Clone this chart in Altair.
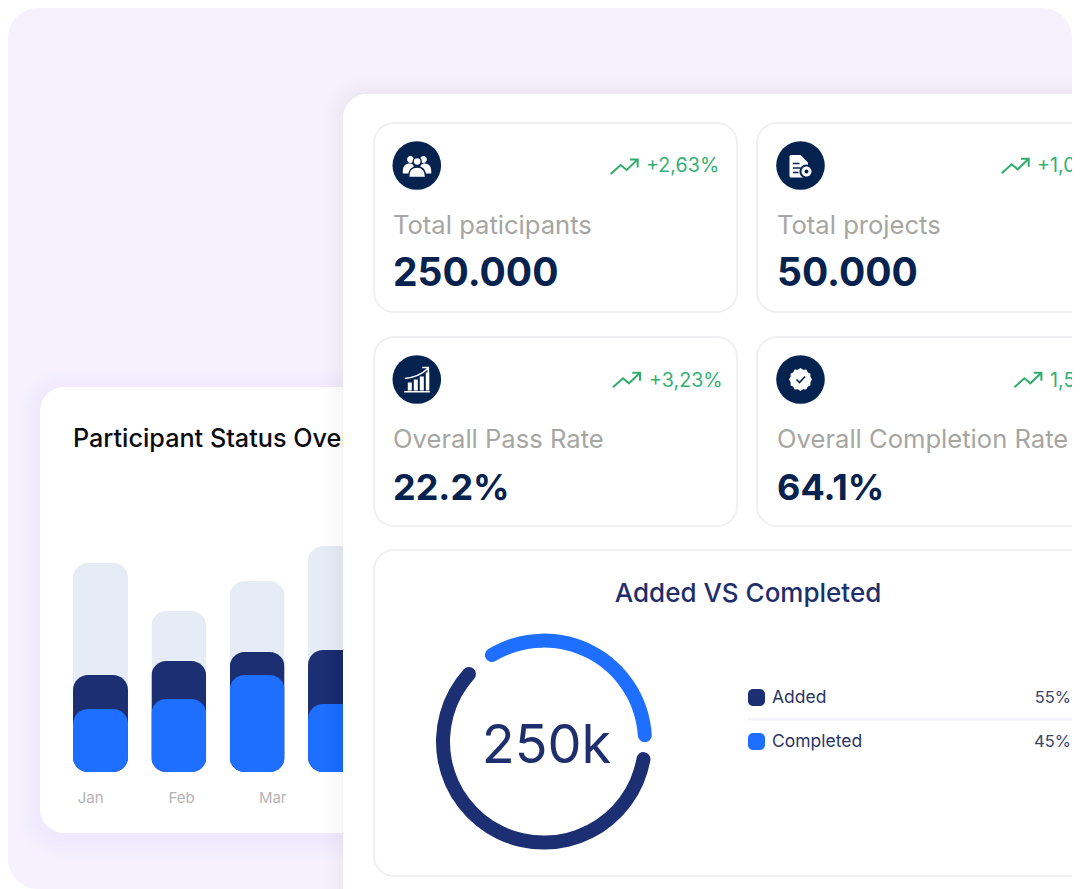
import math
import altair as alt
import pandas as pd

FONT = "Inter"
NAVY = "#06224F"
INDIGO = "#1B2F72"
BLUE = "#1E6EFF"
PALE = "#E5ECF5"
GREEN = "#2FAE6B"
GREY = "#A6A6A2"

months = ["Jan", "Feb", "Mar", "Apr"]
total_vals = [209, 161, 191, 226]
added_vals = [97, 111, 120, 122]
completed_vals = [63, 73, 97, 68]
month_labels = ["Jan", "Feb", "Mar"]
month_label_x = [90.7, 181.7, 272.7]

card_titles = ["Total paticipants", "Total projects", "Overall Pass Rate", "Overall Completion Rate"]
card_values = ["250.000", "50.000", "22.2%", "64.1%"]
card_trends = ["+2,63%", "+1,02%", "+3,23%", "1,54%"]
card_x = [393, 777, 393, 777]
card_trend_x = [646, 1037, 649, 1050]

donut_names = ["Added", "Completed"]
donut_pct = ["55%", "45%"]
donut_start = [96, 325]
donut_end = [316, 450.3]
donut_colors = [INDIGO, BLUE]

XS = alt.Scale(domain=[8, 1072], range=[0, 1064], zero=False, nice=False)
YS = alt.Scale(domain=[8, 889], range=[0, 881], zero=False, nice=False)


def X(f="x"):
    return alt.X(f"{f}:Q", scale=XS, axis=None)


def Y(f="y"):
    return alt.Y(f"{f}:Q", scale=YS, axis=None)


def box(x0, y0, x1, y1, fill, r=0, stroke=None, sw=0, opacity=1):
    kw = dict(fill=fill, cornerRadius=r, opacity=opacity)
    if stroke:
        kw.update(stroke=stroke, strokeWidth=sw)
    return alt.Chart(pd.DataFrame({"x": [x0], "y": [y0], "x1": [x1], "y1": [y1]})).mark_rect(**kw).encode(
        x=X(), y=Y(), x2="x1:Q", y2="y1:Q")


def shadow(x0, y0, x1, y1, r, spread, dy, color, op, steps=8):
    out = []
    for i in range(steps, 0, -1):
        s = spread * i / steps
        out.append(box(x0 - s, y0 - s + dy, x1 + s, y1 + s + dy, color, r + s, opacity=op))
    return out


def text(rows, size, color, weight=400, align="left", font=FONT):
    d = pd.DataFrame(rows, columns=["t", "x", "y"])
    return alt.Chart(d).mark_text(font=font, fontSize=size, color=color, fontWeight=weight, align=align,
                                  baseline="alphabetic").encode(x=X(), y=Y(), text="t:N")


def glyph(cx, cy, path, fill=None, stroke=None, sw=0):
    kw = dict(shape=path, size=4, opacity=1)
    kw["filled"] = fill is not None
    if fill:
        kw["fill"] = fill
    if stroke:
        kw.update(stroke=stroke, strokeWidth=sw)
    else:
        kw["strokeWidth"] = 0
    return alt.Chart(pd.DataFrame({"x": [cx], "y": [cy]})).mark_point(**kw).encode(x=X(), y=Y())


def circ(x, y, r):
    return f"M{x-r} {y}a{r} {r} 0 1 0 {2*r} 0a{r} {r} 0 1 0 {-2*r} 0Z"


ARROW = "M-13.3 7.3L-3.3 -1.7L2.7 3.3L13.7 -7.3M6 -7.3L13.7 -7.3L13.7 0.7"
people_side = (circ(-6.3, -6, 3.4) + circ(6.7, -6, 3.4)
               + "M-14 6C-14 0 -11 -2 -7 -2C-4 -2 -3 0 -3 2L-7 6L-7 8L-14 8Z"
               + "M14.5 6C14.5 0 11.5 -2 7.5 -2C4.5 -2 3.5 0 3.5 2L7.5 6L7.5 8L14.5 8Z")
people_mid = circ(0.4, -4, 4) + "M-8 12C-8 4 -5 1.5 0.4 1.5C5.8 1.5 8.8 4 8.8 12Z"
doc = "M-11 -9Q-11 -10.5 -9.5 -10.5L0 -10.5L7.5 -3L7.5 10.5Q7.5 12 6 12L-9.5 12Q-11 12 -11 10.5Z"
doc_lines = "M-7.5 -2H-1M-7.5 2.5H0M-7.5 7H-2"
bars_icon = "M-9 3H-5V11H-9ZM-3 -0H1V11H-3ZM3 -3H7V11H3ZM9 -7H12.5V11H9ZM-12.5 11.5H13V13H-12.5Z"
bars_arrow = "M-12 -1C-3 -2 5 -5 11 -11M5.5 -12H11.5V-6"
scallop = "M" + "L".join(
    f"{(11.5 if i % 2 == 0 else 10.2) * math.cos(i * math.pi / 12):.2f} {(11.5 if i % 2 == 0 else 10.2) * math.sin(i * math.pi / 12):.2f}"
    for i in range(24)) + "Z"
check = "M-4 0L-1 3L4.5 -3"

layers = []
# page background
layers.append(box(8, 8, 1072, 889, "#F6F1FD", 30))

# back card
layers += shadow(40, 387, 400, 833, 24, 22, 4, "#6B4FA8", 0.005)
layers.append(box(40, 387, 400, 833, "#FFFFFF", 24))
layers.append(text([("Participant Status Overview", 73, 447)], 25.2, "#0B0B12", 500))

# stacked bars, read as values through their own scale
bar_df = pd.DataFrame({"m": months, "total": total_vals, "added": added_vals, "completed": completed_vals})
bx = alt.X("m:N", scale=alt.Scale(domain=months, range=[65, 355], paddingInner=0.298, paddingOuter=0), axis=None)
by = alt.Scale(domain=[0, 250], range=[764, 514], nice=False)
for field, col in [("total", PALE), ("added", INDIGO), ("completed", BLUE)]:
    layers.append(alt.Chart(bar_df).mark_bar(color=col, cornerRadius=15).encode(
        x=bx, y=alt.Y(f"{field}:Q", scale=by, axis=None)))
layers.append(text(list(zip(month_labels, month_label_x, [803] * 3)), 15, "#B4B4B4", 400, "center"))

# front card
layers += shadow(343, 94, 1200, 1000, 24, 20, 0, "#3A2F6B", 0.004)
layers.append(box(343, 94, 1200, 1000, "#FFFFFF", 24))

# stat cards
BORDER = "#F0F0F3"
for x0, x1, y0, y1 in [(374, 737, 123, 312), (757, 1200, 123, 312), (374, 737, 337, 526), (757, 1200, 337, 526),
                       (374, 1200, 550, 876)]:
    layers.append(box(x0, y0, x1, y1, "#FFFFFF", 20, BORDER, 2))

icon_c = [(416.8, 165.5), (800.5, 165.5), (416.8, 379.5), (800.5, 379.5)]
icon_df = pd.DataFrame({"x": [c[0] for c in icon_c], "y": [c[1] for c in icon_c]})
layers.append(alt.Chart(icon_df).mark_circle(color=NAVY, size=2362, opacity=1).encode(x=X(), y=Y()))

cx, cy = icon_c[0]
layers.append(glyph(cx, cy, people_side, "#FFFFFF"))
layers.append(glyph(cx, cy, people_mid, "#FFFFFF", NAVY, 1.4))
cx, cy = icon_c[1]
layers.append(glyph(cx, cy, doc, "#FFFFFF"))
layers.append(glyph(cx, cy, doc_lines, None, NAVY, 1.4))
layers.append(glyph(cx, cy, circ(6, 6, 7), NAVY))
layers.append(glyph(cx, cy, circ(6, 6, 5), "#FFFFFF"))
layers.append(glyph(cx, cy, circ(6, 6, 2), NAVY))
cx, cy = icon_c[2]
layers.append(glyph(cx, cy, bars_icon, "#FFFFFF"))
layers.append(glyph(cx, cy, bars_arrow, None, "#FFFFFF", 1.6))
cx, cy = icon_c[3]
layers.append(glyph(cx, cy, scallop, "#FFFFFF"))
layers.append(glyph(cx, cy, check, None, NAVY, 1.6))

for ax, ay in [(624, 166.7), (1015, 166), (626.3, 380), (1027.7, 380)]:
    layers.append(glyph(ax, ay, ARROW, None, GREEN, 2))

base_trend = [172.3, 172.3, 386.7, 386.7]
base_title = [234.3, 234.3, 448, 448]
base_value = [285.7, 285.7, 500, 500]
layers.append(text(list(zip(card_trends, card_trend_x, base_trend)), 19.7, "#35B074"))
layers.append(text(list(zip(card_titles, card_x, base_title)), 25.6, GREY))
layers.append(text(list(zip(card_values[:2], card_x[:2], base_value[:2])), 39, NAVY, 700))
layers.append(text(list(zip(card_values[2:], card_x[2:], base_value[2:])), 36, NAVY, 700))

# donut panel
layers.append(text([("Added VS Completed", 748, 602)], 26, "#1F2F6B", 500, "center"))
arc_df = pd.DataFrame({"n": donut_names, "a": donut_start, "b": donut_end, "x": [544] * 2, "y": [741.6] * 2})
layers.append(alt.Chart(arc_df).mark_arc(innerRadius=94, outerRadius=108, cornerRadius=7).encode(
    x=X(), y=Y(),
    theta=alt.Theta("a:Q", scale=alt.Scale(domain=[0, 360], range=[0, 2 * math.pi])),
    theta2="b:Q",
    color=alt.Color("n:N", scale=alt.Scale(domain=donut_names, range=donut_colors), legend=None)))
layers.append(text([("250k", 546.5, 762.7)], 54, "#1F2F6D", 400, "center"))

layers.append(box(748, 718, 1200, 720.5, "#F3F4F7"))
layers.append(box(748, 689, 765, 706, INDIGO, 5))
layers.append(box(748, 733, 765, 750, BLUE, 5))
layers.append(text(list(zip(donut_names, [772, 772], [703.3, 747.3])), 17.5, "#2A3566", 400))
layers.append(text(list(zip(donut_pct, [1071, 1071], [703.3, 747.3])), 16.5, "#3A4468", 400, "right"))

chart = alt.layer(*layers).resolve_scale(x="independent", y="independent", color="independent", theta="independent").properties(
    width=1064, height=881, padding=0, autosize=alt.AutoSizeParams(type="none"),
    background="#FFFFFF"
).configure_view(stroke=None)

chart.save("out.html", embed_options={"renderer": "svg", "actions": False})
